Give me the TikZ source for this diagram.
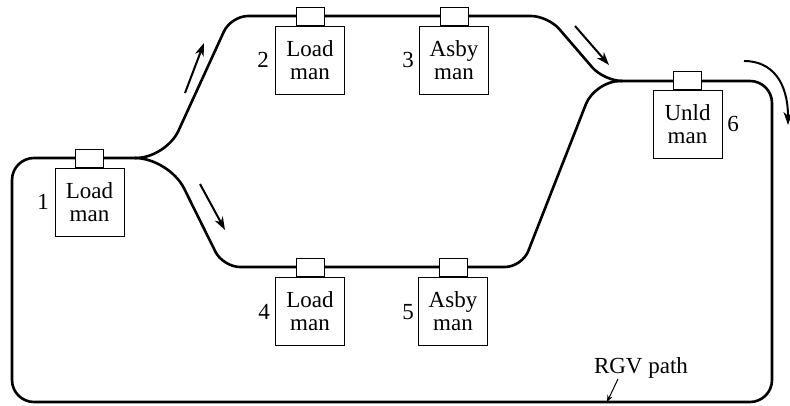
\documentclass[tikz,border=0pt]{standalone}
\usepackage{fontspec}
\setmainfont{Liberation Serif}
\usetikzlibrary{arrows.meta}
\begin{document}
\begin{tikzpicture}[x=1pt,y=-1pt,
  track/.style={line width=2.6pt, line join=round, line cap=round},
  bigbox/.style={draw, line width=0.9pt, fill=white, minimum width=69pt, minimum height=68pt, inner sep=0pt, align=center, font=\fontsize{23}{23}\selectfont, anchor=north},
  smallbox/.style={draw, line width=0.9pt, fill=white, minimum width=28pt, minimum height=18pt, inner sep=0pt, anchor=south},
  num/.style={font=\fontsize{23}{23}\selectfont, anchor=base, inner sep=0pt},
  flow/.style={line width=2pt, -{Stealth[length=13pt,width=9pt,inset=4pt]}},
  pointer/.style={line width=1pt, -{Stealth[length=7pt,width=5.5pt,inset=2.5pt]}}]
\useasboundingbox (0,0) rectangle (790,406);
\coordinate (J1) at (135,158);
\coordinate (J2) at (622,81);
% main loop
\draw[track, rounded corners=22pt] (J2) -- (772,81) -- (772,402) -- (12,402) -- (12,158) -- (J1);
% upper branch
\draw[track] (J1) [rounded corners=30pt] -- (166,158) [rounded corners=17pt] -- (231,16) -- (548,16) [rounded corners=18pt] -- (604,81) -- (J2);
% lower branch
\draw[track] (J1) [rounded corners=34pt] -- (169,158) [rounded corners=17pt] -- (223,267) -- (522,267) [rounded corners=25pt] -- (595,81) -- (J2);
% stations
\node[bigbox] (b1) at (89.5,168) {Load\\man};
\node[smallbox] (s1) at (b1.north) {};
\node[bigbox] (b2) at (310,26) {Load\\man};
\node[smallbox] (s2) at (b2.north) {};
\node[bigbox] (b3) at (454,26) {Asby\\man};
\node[smallbox] (s3) at (b3.north) {};
\node[bigbox] (b4) at (310,277) {Load\\man};
\node[smallbox] (s4) at (b4.north) {};
\node[bigbox] (b5) at (453,277) {Asby\\man};
\node[smallbox] (s5) at (b5.north) {};
\node[bigbox] (b6) at (687.5,90) {Unld\\man};
\node[smallbox] (s6) at (b6.north) {};
% numbers
\node[num] (n1) at (43,210) {1};
\node[num] (n2) at (263,68) {2};
\node[num] (n3) at (408,68) {3};
\node[num] (n4) at (264,319) {4};
\node[num] (n5) at (408,319) {5};
\node[num] (n6) at (733,132) {6};
% flow arrows
\coordinate (a1s) at (185,93);  \coordinate (a1e) at (204,43);
\coordinate (a2s) at (200,184); \coordinate (a2e) at (225,230);
\coordinate (a3s) at (575,26);  \coordinate (a3e) at (609,65);
\coordinate (a4s) at (744,61);  \coordinate (a4e) at (788,125);
\draw[flow] (a1s) -- (a1e);
\draw[flow] (a2s) -- (a2e);
\draw[flow] (a3s) -- (a3e);
\draw[flow] (a4s) .. controls (772,61) and (788,82) .. (a4e);
% RGV label
\node[num] (rgv) at (641,373) {RGV path};
\coordinate (rgvs) at (618,379);
\coordinate (rgvt) at (607,402);
\draw[pointer] (rgvs) -- (rgvt);
\end{tikzpicture}
\end{document}
